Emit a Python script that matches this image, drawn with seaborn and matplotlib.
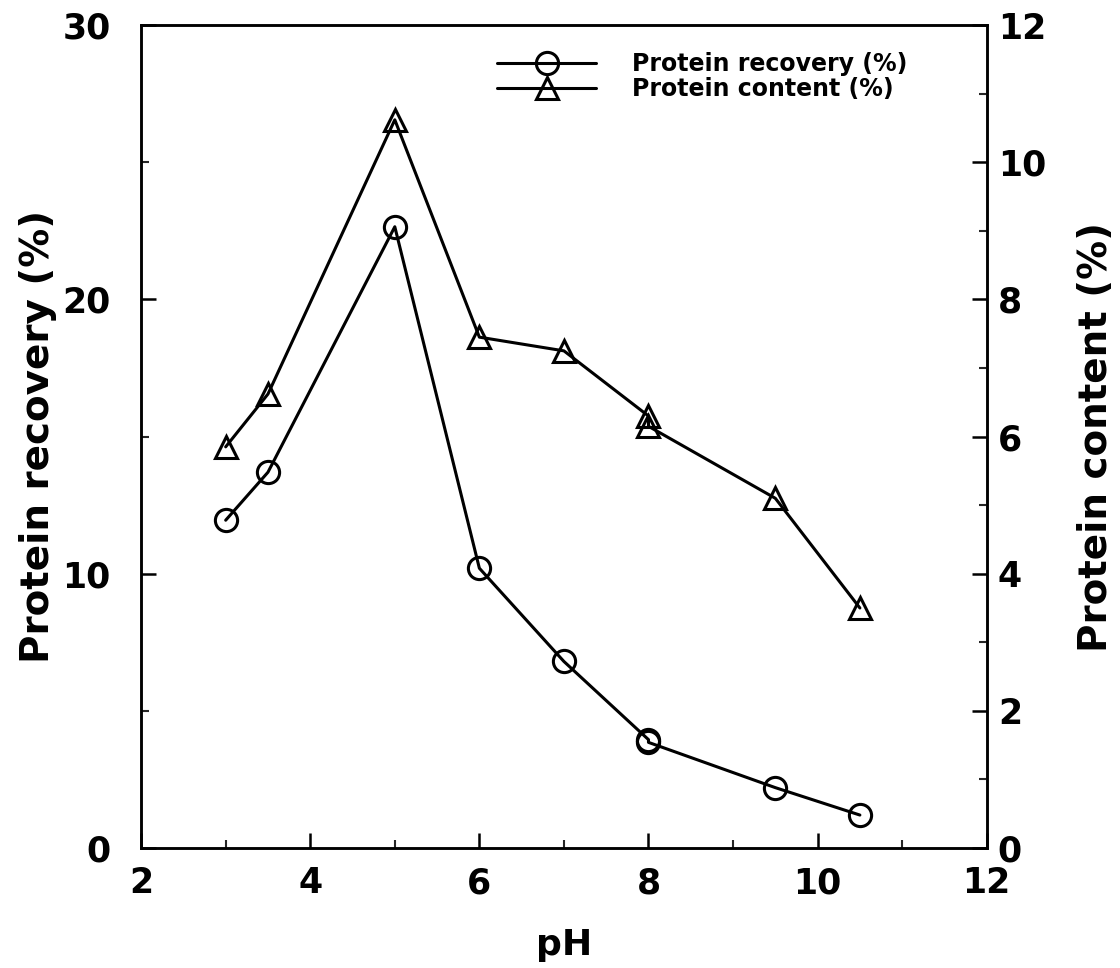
import matplotlib
matplotlib.use('Agg')
import matplotlib.pyplot as plt
import seaborn as sns
import pandas as pd
from matplotlib.ticker import MultipleLocator

# Data
ph = [3, 3.5, 5, 6, 7, 8, 8, 9.5, 10.5]
recovery = [11.95, 13.7, 22.65, 10.2, 6.8, 3.95, 3.85, 2.2, 1.2]
content = [5.85, 6.62, 10.62, 7.45, 7.25, 6.3, 6.15, 5.1, 3.5]
series_labels = ['Protein recovery (%)', 'Protein content (%)']
x_ticks = [2, 4, 6, 8, 10, 12]
left_ticks = [0, 10, 20, 30]
right_ticks = [0, 2, 4, 6, 8, 10, 12]

sns.set_theme(style='white')
plt.rcParams['font.family'] = ['DejaVu Sans']
plt.rcParams['font.weight'] = 'bold'
plt.rcParams['text.color'] = 'black'

df = pd.DataFrame({'pH': ph, 'recovery': recovery, 'content': content})

fig = plt.figure(figsize=(11.2, 9.68), dpi=100)
ax = fig.add_axes([0.126, 0.124, 0.755, 0.850])
ax2 = ax.twinx()

common = dict(estimator=None, sort=False, color='black', linewidth=2.2,
              markersize=16, markerfacecolor='none', markeredgecolor='black',
              markeredgewidth=2.2, legend=False)
sns.lineplot(data=df, x='pH', y='recovery', marker='o', ax=ax, **common)
sns.lineplot(data=df, x='pH', y='content', marker='^', ax=ax2, **common)

ax.set_xlim(2, 12)
ax.set_ylim(0, 30)
ax2.set_ylim(0, 12)
ax.set_xticks(x_ticks)
ax.set_yticks(left_ticks)
ax2.set_yticks(right_ticks)
ax.xaxis.set_minor_locator(MultipleLocator(1))
ax.yaxis.set_minor_locator(MultipleLocator(5))
ax2.yaxis.set_minor_locator(MultipleLocator(1))

for a in (ax, ax2):
    for s in a.spines.values():
        s.set_color('black')
        s.set_linewidth(1.8)
    a.grid(False)

ax.tick_params(axis='both', which='major', direction='in', length=11, width=1.8,
               labelsize=25, colors='black', bottom=True, left=True)
ax.tick_params(axis='both', which='minor', direction='in', length=6, width=1.5,
               bottom=True, left=True)
ax.tick_params(axis='x', which='major', pad=13)
ax.tick_params(axis='y', which='major', pad=22)
ax2.tick_params(axis='y', which='major', direction='in', length=11, width=1.8,
                labelsize=25, colors='black', right=True, pad=8)
ax2.tick_params(axis='y', which='minor', direction='in', length=6, width=1.5, right=True)

for lab in ax.get_xticklabels() + ax.get_yticklabels() + ax2.get_yticklabels():
    lab.set_fontweight('bold')

ax.set_xlabel('pH', fontsize=26, fontweight='bold', labelpad=20, color='black')
ax.set_ylabel('Protein recovery (%)', fontsize=28, fontweight='bold', labelpad=4, color='black')
ax2.set_ylabel('Protein content (%)', fontsize=28, fontweight='bold', labelpad=22, color='black')

handles = [ax.lines[0], ax2.lines[0]]
ax2.legend(handles, series_labels, loc='upper left', bbox_to_anchor=(0.41, 0.979),
           frameon=False, prop={'size': 17, 'weight': 'bold'}, handlelength=4.2,
           handletextpad=1.5, labelspacing=0.05, borderaxespad=0, labelcolor='black')

fig.savefig('out.png', dpi=100)
